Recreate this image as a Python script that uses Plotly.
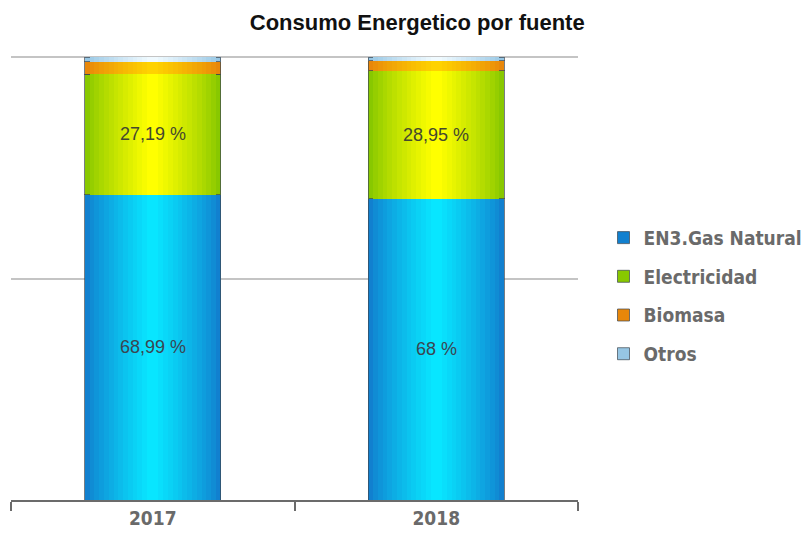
import plotly.graph_objects as go

# data
years = ["2017", "2018"]
gas = [68.99, 68.0]
electricidad = [27.19, 28.95]
biomasa = [2.8, 2.25]
otros = [1.02, 0.8]
gas_labels = ["68,99 %", "68 %"]
elec_labels = ["27,19 %", "28,95 %"]

series = [
    ("EN3.Gas Natural", gas, "#1180cf", "#08e6ff"),
    ("Electricidad", electricidad, "#88c800", "#ffff00"),
    ("Biomasa", biomasa, "#e8870a", "#ffd200"),
    ("Otros", otros, "#96c6e4", "#f0faff"),
]

narrow = "DejaVu Sans Condensed, Arial Narrow, sans-serif"


def mix(c1, c2, t):
    a = [int(c1[i:i + 2], 16) for i in (1, 3, 5)]
    b = [int(c2[i:i + 2], 16) for i in (1, 3, 5)]
    return "rgb(%d,%d,%d)" % tuple(round(a[k] + (b[k] - a[k]) * t) for k in range(3))


# gradient layers: narrower + lighter toward the centre of each bar
n_layers = 14
widths = [0.48 - 0.44 * i / (n_layers - 1) for i in range(n_layers)]
fig = go.Figure()
for i, w in enumerate(widths):
    t = (i / (n_layers - 1)) ** 0.85
    xa = "x" if i == 0 else "x%d" % (i + 1)
    for k, (name, vals, edge, centre) in enumerate(series):
        fig.add_trace(go.Bar(
            x=years, y=vals, name=name, width=w,
            xaxis=xa, yaxis="y",
            marker=dict(color=mix(edge, centre, t),
                        line=dict(width=1 if i == 0 else 0, color="rgba(60,70,80,0.7)")),
            showlegend=(i == 0), legendgroup=name,
            hoverinfo="skip" if i else None,
        ))

# labels inside the two big segments
for j in range(len(years)):
    fig.add_annotation(x=j, y=gas[j] / 2, text=gas_labels[j], showarrow=False,
                       xref="x", yref="y",
                       font=dict(family="Liberation Sans, Arial, sans-serif",
                                 size=18, color="#3a4652"))
    fig.add_annotation(x=j, y=gas[j] + electricidad[j] / 2, text=elec_labels[j],
                       showarrow=False, xref="x", yref="y",
                       font=dict(family="Liberation Sans, Arial, sans-serif",
                                 size=18, color="#44482e"))

fig.update_layout(
    barmode="stack",
    width=804, height=531,
    margin=dict(l=3, r=234, t=48, b=39),
    paper_bgcolor="white", plot_bgcolor="white",
    title=dict(text="<b>Consumo Energetico por fuente</b>", x=0.509, xanchor="center",
               y=0.973, yanchor="middle",
               font=dict(family="Liberation Sans, Arial, sans-serif", size=22,
                         color="#111111")),
    legend=dict(x=1.045, xanchor="left", y=0.46, yanchor="middle",
                traceorder="grouped", tracegroupgap=11,
                font=dict(family=narrow, size=19, color="#6a6a6a", weight="bold")),
    showlegend=True,
    yaxis=dict(range=[0, 100.3], showticklabels=False, tickvals=[0, 50, 100],
               showgrid=True, gridcolor="#c4c4c4", gridwidth=2, zeroline=False,
               fixedrange=True),
    xaxis=dict(type="category", range=[-0.5, 1.5], showline=True, linecolor="#6b6b6b",
               linewidth=2, ticks="outside", tickson="boundaries", ticklen=9,
               tickcolor="#6b6b6b", tickwidth=2,
               tickfont=dict(family=narrow, size=19, color="#6a6a6a", weight="bold")),
)
for i in range(1, n_layers):
    fig.update_layout(**{"xaxis%d" % (i + 1): dict(
        type="category", range=[-0.5, 1.5], overlaying="x", visible=False,
        categoryorder="array", categoryarray=years)})

fig.write_html("out.html")
